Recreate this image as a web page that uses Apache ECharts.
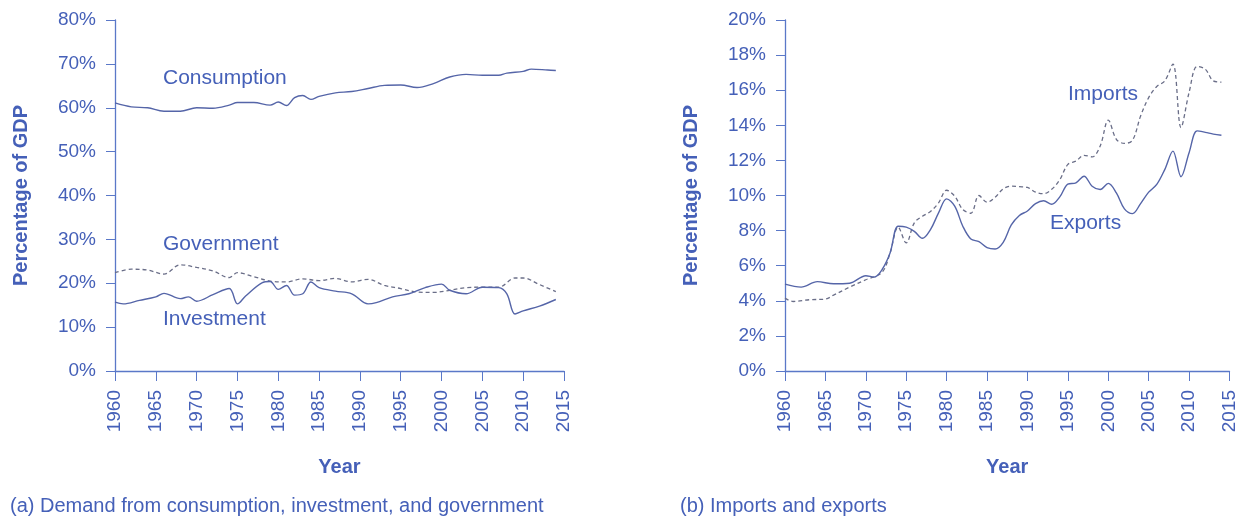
<!DOCTYPE html>
<html>
<head>
<meta charset="utf-8">
<script src="https://cdn.jsdelivr.net/npm/echarts@6/dist/echarts.min.js"></script>
<style>
html,body{margin:0;padding:0;background:#fff;}
#c{width:1239px;height:518px;}
</style>
</head>
<body>
<div id="c"></div>
<script>
// ---- Data (percent of GDP) ----
const consumptionYears = [1960,1962,1964,1966,1968,1970,1972,1974,1975,1977,1979,1980,1981,1982,1983,1984,1985,1987,1989,1991,1993,1995,1997,1999,2001,2003,2005,2007,2008,2010,2011,2013,2014];
const consumptionVals  = [61.1,60.2,60.0,59.2,59.2,60.0,59.9,60.6,61.2,61.2,60.6,61.3,60.5,62.3,62.8,61.9,62.6,63.4,63.7,64.4,65.1,65.2,64.6,65.5,67.0,67.6,67.4,67.4,67.9,68.3,68.8,68.6,68.5];

const governmentYears = [1960,1962,1964,1966,1968,1970,1972,1974,1975,1977,1979,1981,1983,1985,1987,1989,1991,1993,1995,1997,1999,2001,2003,2005,2007,2009,2010,2012,2014];
const governmentVals  = [22.4,23.2,23.0,22.1,24.2,23.6,22.8,21.3,22.4,21.5,20.5,20.3,21.0,20.6,21.1,20.3,20.9,19.5,18.8,18.0,17.9,18.4,19.0,19.1,19.1,21.2,21.2,19.7,18.1];

const investmentYears = [1960,1961,1963,1965,1966,1968,1969,1970,1972,1974,1975,1976,1978,1979,1980,1981,1982,1983,1984,1985,1987,1989,1991,1992,1994,1996,1998,2000,2001,2003,2005,2007,2008,2009,2010,2012,2014];
const investmentVals  = [15.7,15.3,16.1,16.9,17.7,16.5,16.9,15.9,17.4,18.8,15.3,17.1,20.1,20.4,18.6,19.5,17.3,17.6,20.3,19.0,18.2,17.6,15.3,15.6,16.9,17.6,19.0,19.8,18.4,17.6,19.1,19.0,17.6,13.0,13.7,14.8,16.3];

const exportYears = [1960,1962,1964,1966,1968,1970,1971,1972,1973,1974,1975,1976,1977,1978,1979,1980,1981,1982,1983,1984,1985,1986,1987,1988,1989,1990,1991,1992,1993,1994,1995,1996,1997,1998,1999,2000,2001,2002,2003,2004,2005,2006,2007,2008,2009,2010,2011,2012,2013,2014];
const exportVals  = [4.95,4.78,5.09,4.97,5.0,5.43,5.35,5.77,6.72,8.25,8.2,7.96,7.56,8.06,9.01,9.81,9.39,8.25,7.52,7.37,7.03,6.95,7.33,8.32,8.86,9.12,9.54,9.7,9.5,9.92,10.65,10.72,11.1,10.53,10.34,10.69,10.15,9.24,8.97,9.54,10.19,10.63,11.49,12.53,11.07,12.44,13.68,13.6,13.5,13.43];

const importYears = [1960,1961,1963,1965,1966,1968,1970,1972,1973,1974,1975,1976,1977,1978,1979,1980,1981,1982,1983,1984,1985,1986,1987,1988,1989,1990,1991,1992,1993,1994,1995,1996,1997,1998,1999,2000,2001,2002,2003,2004,2005,2006,2007,2008,2009,2010,2011,2012,2013,2014];
const importVals  = [4.15,3.96,4.06,4.1,4.32,4.78,5.2,5.62,6.72,8.2,7.3,8.44,8.82,9.09,9.58,10.3,9.96,9.2,8.99,10.0,9.62,9.9,10.38,10.53,10.5,10.46,10.19,10.1,10.35,10.9,11.77,11.96,12.29,12.2,12.82,14.3,13.2,12.97,13.15,14.53,15.58,16.21,16.53,17.49,13.87,15.87,17.35,17.2,16.53,16.46];

const yearTicks = ['1960','1965','1970','1975','1980','1985','1990','1995','2000','2005','2010','2015'];
const leftTickLabels = ['0%','10%','20%','30%','40%','50%','60%','70%','80%'];
const rightTickLabels = ['0%','2%','4%','6%','8%','10%','12%','14%','16%','18%','20%'];

const captionA = '(a) Demand from consumption, investment, and government';
const captionB = '(b) Imports and exports';

// ---- Styling ----
const FONT = 'Liberation Sans, Arial, Helvetica, sans-serif';
const TXT = '#4560b8';
const AXIS = '#5a78c8';
const SOLID = '#5565a8';
const DASH = '#6a6e88';

function pairs(xs, ys){ return xs.map((x,i)=>[x, ys[i]]); }

function xAxisDef(gridIndex){
  return {
    type:'value', gridIndex, min:1960, max:2015, interval:5,
    name:'Year', nameLocation:'middle', nameGap:86,
    nameTextStyle:{color:TXT, fontWeight:'bold', fontSize:20, fontFamily:FONT},
    axisLine:{show:true, lineStyle:{color:AXIS, width:1.3}},
    axisTick:{show:true, inside:false, length:10, lineStyle:{color:AXIS}},
    axisLabel:{rotate:90, color:TXT, fontSize:19, fontFamily:FONT, margin:19,
      formatter:(v)=>yearTicks[Math.round((v-1960)/5)]},
    splitLine:{show:false}
  };
}
function yAxisDef(gridIndex, max, interval, labels){
  return {
    type:'value', gridIndex, min:0, max, interval,
    name:'Percentage of GDP', nameLocation:'middle', nameGap:84,
    nameTextStyle:{color:TXT, fontWeight:'bold', fontSize:20, fontFamily:FONT},
    axisLine:{show:true, lineStyle:{color:AXIS, width:1.3}},
    axisTick:{show:true, inside:false, length:9, lineStyle:{color:AXIS}},
    axisLabel:{color:TXT, fontSize:19, fontFamily:FONT, margin:19,
      formatter:(v)=>labels[Math.round(v/interval)]},
    splitLine:{show:false}
  };
}
function line(name, xi, yi, data, dashed){
  return {
    name, type:'line', xAxisIndex:xi, yAxisIndex:yi, data,
    smooth:0.35, showSymbol:false, symbol:'none',
    lineStyle:{color: dashed?DASH:SOLID, width: dashed?1.3:1.4, type: dashed?[4,3]:'solid'},
    z: dashed?2:3
  };
}
function label(text, x, y){
  return {type:'text', left:x, top:y, style:{text, fill:TXT, font:'21px '+FONT}};
}

const chart = echarts.init(document.getElementById('c'), null, {renderer:'canvas'});
chart.setOption({
  backgroundColor:'#fff',
  animation:false,
  grid:[
    {left:115, top:20, width:449, height:351},
    {left:785, top:20, width:446, height:351}
  ],
  xAxis:[xAxisDef(0), xAxisDef(1)],
  yAxis:[yAxisDef(0, 80, 10, leftTickLabels), yAxisDef(1, 20, 2, rightTickLabels)],
  series:[
    line('Consumption',0,0,pairs(consumptionYears, consumptionVals),false),
    line('Government',0,0,pairs(governmentYears, governmentVals),true),
    line('Investment',0,0,pairs(investmentYears, investmentVals),false),
    line('Imports',1,1,pairs(importYears, importVals),true),
    line('Exports',1,1,pairs(exportYears, exportVals),false)
  ],
  graphic:[
    label('Consumption',163,68),
    label('Government',163,234),
    label('Investment',163,309),
    label('Imports',1068,84),
    label('Exports',1050,213),
    {type:'text', left:10, top:496, style:{text:captionA, fill:TXT, font:'20px '+FONT}},
    {type:'text', left:680, top:496, style:{text:captionB, fill:TXT, font:'20px '+FONT}}
  ]
});
</script>
</body>
</html>
